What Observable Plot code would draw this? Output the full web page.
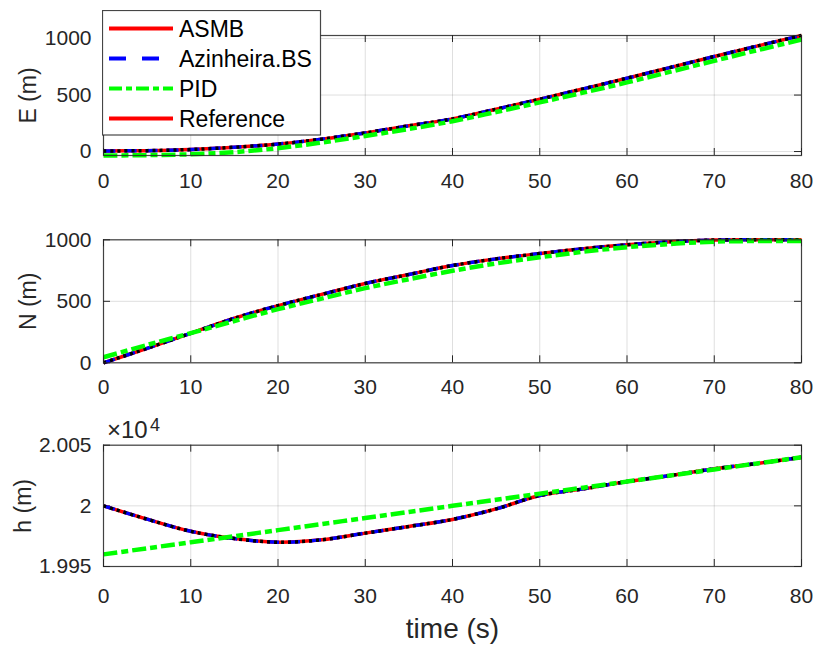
<!DOCTYPE html>
<html><head><meta charset="utf-8">
<script src="https://cdn.jsdelivr.net/npm/d3@7"></script>
<script src="https://cdn.jsdelivr.net/npm/@observablehq/plot@0.6"></script>
<style>
body{margin:0;background:#fff;}
#fig{position:relative;width:815px;height:648px;font-family:"Liberation Sans",Arial,sans-serif;overflow:hidden;}
#fig > svg{position:absolute;left:0;}
</style></head><body><div id="fig"></div>
<script>
// ---- data ----
const time = [0,5,10,15,20,25,30,35,40,45,50,55,60,65,70,75,80];
// ASMB, Azinheira.BS and Reference overlap (same track)
const eTrack = [5,8,18,38,66,110,165,228,289,375,463,555,649,745,841,935,1027];
const ePID   = [-35,-32,-24,-5,30,80,138,200,268,350,435,522,612,707,803,898,990];
const nTrack = [0,118,240,362,465,556,645,718,791,845,888,928,959,984,998,1000,1000];
const nPID   = [45,145,241,340,436,522,607,680,748,808,858,903,940,966,985,990,990];
const hTrack = [20000,19989,19979,19973,19970,19972,19977.5,19983,19988.8,19997.5,20008.5,20014,20020,20025,20030.5,20035,20040];
const hPID   = [19960,19965,19970,19975,19980,19985,19990,19995,20000,20005,20010,20015,20020,20025,20030,20035,20040];
const xTicks = [0,10,20,30,40,50,60,70,80];
const eTicks = [0,500,1000];
const nTicks = [0,500,1000];
const hTicks = [19950,20000,20050];
const seriesNames = ["ASMB","Azinheira.BS","PID","Reference"];
const xDomain = [0,80];

const FONT = '"Liberation Sans", Arial, sans-serif';
const AX = "#262626";
const W = 815, ML = 103, MR = 14;

const styles = {
  ASMB:        {stroke:"#ff0000", strokeWidth:3.5, strokeLinecap:"butt"},
  "Azinheira.BS": {stroke:"#0000ff", strokeWidth:3.5, strokeDasharray:"12,9", strokeLinecap:"butt"},
  Reference:   {stroke:"#000000", strokeWidth:3.5, strokeDasharray:"3,4", strokeLinecap:"butt"},
  PID:         {stroke:"#00ff00", strokeWidth:4.5, strokeDasharray:"14,4,7,4", strokeLinecap:"butt"}
};

function rows(arr){ return time.map((t,i)=>({t, v: arr[i]})); }

function panel({track, pid, yDomain, yTicks, tickFormat, top, height, mTop, mBottom, label, labelDx, xPad, extra = []}) {
  const fh = height - mTop - mBottom;
  const tly = (yDomain[1]-yDomain[0]) * 7 / fh;
  const tlx = (xDomain[1]-xDomain[0]) * 7 / (W-ML-MR);
  const trackRows = rows(track), pidRows = rows(pid);
  const curve = "catmull-rom";
  const svg = Plot.plot({
    width: W, height,
    marginLeft: ML, marginRight: MR, marginTop: mTop, marginBottom: mBottom,
    style: {fontFamily: FONT, fontSize: "21px", color: AX, background: "transparent", overflow: "visible"},
    x: {domain: xDomain},
    y: {domain: yDomain},
    marks: [
      Plot.gridX(xTicks, {stroke: AX, strokeOpacity: 0.15, strokeWidth: 1}),
      Plot.gridY(yTicks, {stroke: AX, strokeOpacity: 0.15, strokeWidth: 1}),
      Plot.ruleX(xTicks, {x: d=>d, y1: yDomain[0], y2: yDomain[0]+tly, stroke: AX, strokeWidth: 1}),
      Plot.ruleX(xTicks, {x: d=>d, y1: yDomain[1]-tly, y2: yDomain[1], stroke: AX, strokeWidth: 1}),
      Plot.ruleY(yTicks, {y: d=>d, x1: xDomain[0], x2: xDomain[0]+tlx, stroke: AX, strokeWidth: 1}),
      Plot.ruleY(yTicks, {y: d=>d, x1: xDomain[1]-tlx, x2: xDomain[1], stroke: AX, strokeWidth: 1}),
      Plot.line(trackRows, {x:"t", y:"v", curve, ...styles.ASMB}),
      Plot.line(trackRows, {x:"t", y:"v", curve, ...styles["Azinheira.BS"]}),
      Plot.line(trackRows, {x:"t", y:"v", curve, ...styles.Reference}),
      Plot.line(pidRows, {x:"t", y:"v", curve, ...styles.PID}),
      Plot.frame({stroke: AX, strokeWidth: 1.2, strokeOpacity: 0.85}),
      Plot.axisX({ticks: xTicks, tickSize: 0, tickPadding: xPad, label: null, fontSize: 21}),
      Plot.axisY({ticks: yTicks, tickSize: 0, tickPadding: 12, label: null, tickFormat, fontSize: 21}),
      Plot.text([label], {frameAnchor: "left", dx: labelDx, rotate: -90, text: d=>d, fontSize: 23, textAnchor: "middle", lineAnchor: "middle", fill: AX}),
      ...extra
    ]
  });
  svg.style.top = top + "px";
  return svg;
}

const fig = document.getElementById("fig");

const eAll = ePID.concat(eTrack);
fig.appendChild(panel({track: eTrack, pid: ePID, yDomain: d3.extent(eAll), yTicks: eTicks,
  tickFormat: d3.format("d"), top: 0, height: 200, mTop: 35, mBottom: 45, label: "E (m)", labelDx: -75, xPad: 18}));

fig.appendChild(panel({track: nTrack, pid: nPID, yDomain: [nTicks[0], nTicks[nTicks.length-1]], yTicks: nTicks,
  tickFormat: d3.format("d"), top: 200, height: 200, mTop: 39.3, mBottom: 37.7, label: "N (m)", labelDx: -75, xPad: 16}));

fig.appendChild(panel({track: hTrack, pid: hPID, yDomain: [hTicks[0], hTicks[hTicks.length-1]], yTicks: hTicks,
  tickFormat: d => String(+(d/1e4).toFixed(3)), top: 400, height: 248, mTop: 44.7, mBottom: 82, label: "h (m)", labelDx: -80, xPad: 22,
  extra: [
    Plot.text(["×10"], {frameAnchor: "top-left", text: d=>d, dx: 3.5, dy: -7.4, textAnchor: "start", lineAnchor: "bottom", fontSize: 24, fill: AX}),
    Plot.text(["4"], {frameAnchor: "top-left", text: d=>d, dx: 46.5, dy: -14.7, textAnchor: "start", lineAnchor: "bottom", fontSize: 18, fill: AX}),
    Plot.text(["time (s)"], {frameAnchor: "bottom", text: d=>d, dy: 71, textAnchor: "middle", lineAnchor: "bottom", fontSize: 28, fill: AX})
  ]}));

// ---- legend (overlay) ----
const legendColors = {ASMB: styles.ASMB, "Azinheira.BS": styles["Azinheira.BS"], PID: styles.PID, Reference: styles.ASMB};
const lg = d3.create("svg").attr("width", 220).attr("height", 126)
  .style("position","absolute").style("left","102px").style("top","10px");
lg.append("rect").attr("x",0.5).attr("y",0.5).attr("width",218).attr("height",124.5)
  .attr("fill","#fff").attr("stroke",AX).attr("stroke-opacity",0.85).attr("stroke-width",1.2);
seriesNames.forEach((name,i) => {
  const cy = 18.5 + i*30;
  const st = legendColors[name];
  const legDash = name === "Azinheira.BS" ? "17,16" : name === "PID" ? "13,4,6,4" : null;
  lg.append("line").attr("x1",7).attr("x2",71).attr("y1",cy).attr("y2",cy)
    .attr("stroke",st.stroke).attr("stroke-width",4).attr("stroke-dasharray",legDash);
  lg.append("text").attr("x",77).attr("y",cy).attr("dy","0.36em")
    .attr("font-family",FONT).attr("font-size",23).attr("fill","#000").text(name);
});
fig.appendChild(lg.node());
</script>
</body></html>
